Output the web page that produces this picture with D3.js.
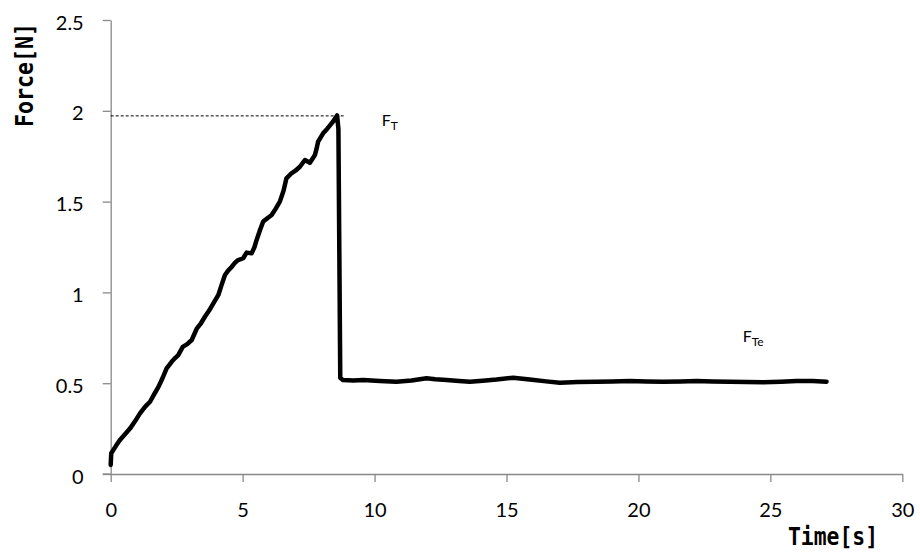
<!DOCTYPE html>
<html lang="en">
<head>
  <meta charset="UTF-8">
  <title>Force over time</title>
  <script src="https://d3js.org/d3.v7.min.js"></script>
  <style>
    body { margin: 0; background: #fff; }
    .tick text { font-family: Lato, "Noto Sans", sans-serif; font-size: 20px; fill: #000; }
    .axis path, .axis line { stroke: #898989; stroke-width: 1.3px; }
    .axis-title { font-family: "DejaVu Sans Mono", "Liberation Mono", monospace; font-weight: bold; font-size: 24px; }
    .note { font-family: Lato, "Noto Sans", sans-serif; font-size: 16px; }
  </style>
</head>
<body>
<div id="chart"></div>
<script>
  // measured force curve (time in s, force in N)
  const time = [0, 0.02, 0.2, 0.35, 0.55, 0.73, 0.92, 1.11, 1.3, 1.49, 1.65, 1.81, 1.97, 2.12, 2.31, 2.45, 2.56, 2.73,
    2.9, 3.07, 3.26, 3.42, 3.57, 3.73, 3.89, 4.08, 4.2, 4.33, 4.45, 4.58, 4.72, 4.83, 5.02, 5.15, 5.34, 5.45, 5.53,
    5.65, 5.78, 5.95, 6.1, 6.25, 6.41, 6.55, 6.66, 6.85, 7.0, 7.17, 7.36, 7.55, 7.74, 7.8, 7.86, 8.05, 8.2, 8.31,
    8.45, 8.58, 8.63, 8.7, 8.8, 9.2, 9.57, 10.2, 10.83, 11.4, 11.97, 12.3, 12.73, 13.2, 13.61, 14.1, 14.62, 15.25,
    15.88, 16.5, 17.02, 17.7, 18.41, 19.0, 19.67, 20.3, 20.93, 21.6, 22.2, 22.8, 23.46, 24.1, 24.73, 25.4, 25.99,
    26.6, 27.13];
  const force = [0.05, 0.114, 0.155, 0.187, 0.22, 0.25, 0.29, 0.334, 0.37, 0.398, 0.44, 0.48, 0.53, 0.582, 0.618,
    0.64, 0.655, 0.7, 0.715, 0.738, 0.8, 0.83, 0.866, 0.9, 0.94, 0.986, 1.04, 1.096, 1.12, 1.14, 1.165, 1.178, 1.188,
    1.219, 1.215, 1.25, 1.289, 1.34, 1.39, 1.41, 1.426, 1.46, 1.5, 1.56, 1.628, 1.656, 1.67, 1.692, 1.729, 1.714,
    1.757, 1.79, 1.83, 1.876, 1.9, 1.92, 1.945, 1.975, 1.9, 0.53, 0.517, 0.515, 0.518, 0.512, 0.508, 0.515, 0.527,
    0.522, 0.518, 0.512, 0.508, 0.514, 0.52, 0.53, 0.52, 0.51, 0.503, 0.506, 0.508, 0.51, 0.512, 0.509, 0.508,
    0.51, 0.512, 0.51, 0.508, 0.506, 0.505, 0.508, 0.512, 0.512, 0.508];

  const xTicks = [0, 5, 10, 15, 20, 25, 30];
  const yTicks = [0, 0.5, 1, 1.5, 2, 2.5];

  // peak reference line and labels
  const peakForce = 1.972;
  const peakLineEnd = 8.9;
  const notes = [
    { main: "F", sub: "T", t: 10.27, f: 1.916 },
    { main: "F", sub: "Te", t: 23.95, f: 0.727 }
  ];

  const width = 920, height = 557;
  const data = time.map((t, i) => ({ t: t, f: force[i] }));

  const svg = d3.select("#chart").append("svg")
    .attr("width", width)
    .attr("height", height);

  const x = d3.scaleLinear().domain([0, 30]).range([110.7, 902.3]);
  const y = d3.scaleLinear().domain([0, 2.5]).range([474, 20]);

  // axes
  svg.append("g")
    .attr("class", "axis")
    .attr("transform", `translate(0,${y(0)})`)
    .call(d3.axisBottom(x).tickValues(xTicks).tickSize(8).tickSizeOuter(0).tickPadding(21)
      .tickFormat(d3.format("d")));

  svg.append("g")
    .attr("class", "axis")
    .attr("transform", `translate(${x(0)},0)`)
    .call(d3.axisLeft(y).tickValues(yTicks).tickSize(8).tickSizeOuter(0).tickPadding(19)
      .tickFormat(d => d3.format("")(d)))
    .selectAll(".tick text").attr("dy", "0.45em");

  // extend x axis line left to the y tick
  svg.append("line")
    .attr("x1", x(0) - 8).attr("x2", x(0))
    .attr("y1", y(0)).attr("y2", y(0))
    .attr("stroke", "#898989").attr("stroke-width", 1.3);

  // dashed peak line
  svg.append("line")
    .attr("x1", x(0)).attr("x2", x(peakLineEnd))
    .attr("y1", y(peakForce)).attr("y2", y(peakForce))
    .attr("stroke", "#000").attr("stroke-width", 1)
    .attr("stroke-dasharray", "3,2");

  // force curve
  svg.append("path")
    .datum(data)
    .attr("fill", "none")
    .attr("stroke", "#000")
    .attr("stroke-width", 4.5)
    .attr("stroke-linejoin", "round")
    .attr("stroke-linecap", "round")
    .attr("d", d3.line().x(d => x(d.t)).y(d => y(d.f)));

  // labels F_T, F_Te
  notes.forEach(n => {
    const txt = svg.append("text")
      .attr("class", "note")
      .attr("x", x(n.t))
      .attr("y", y(n.f));
    txt.append("tspan").text(n.main);
    txt.append("tspan").attr("font-size", "12px").attr("dy", 4).text(n.sub);
  });

  // axis titles
  svg.append("text")
    .attr("class", "axis-title")
    .attr("transform", `translate(33,75) rotate(-90)`)
    .attr("text-anchor", "middle")
    .attr("textLength", 104)
    .attr("lengthAdjust", "spacingAndGlyphs")
    .text("Force[N]");

  svg.append("text")
    .attr("class", "axis-title")
    .attr("x", 833)
    .attr("y", 545)
    .attr("text-anchor", "middle")
    .attr("textLength", 90)
    .attr("lengthAdjust", "spacingAndGlyphs")
    .text("Time[s]");
</script>
</body>
</html>
